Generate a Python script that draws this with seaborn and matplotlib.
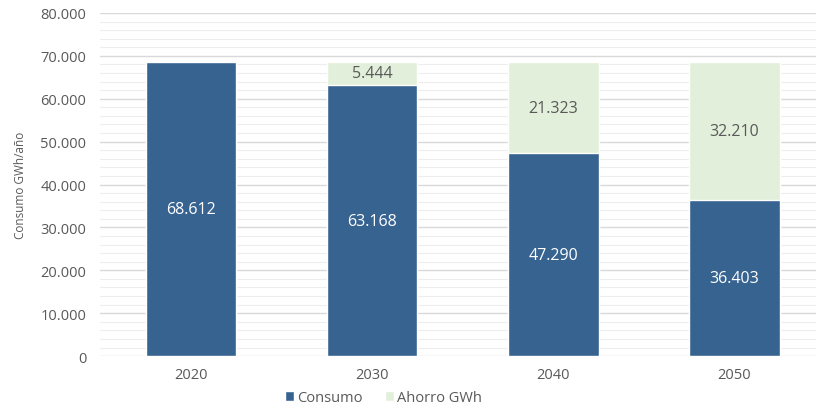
import matplotlib
matplotlib.use("Agg")
import matplotlib.pyplot as plt
import seaborn as sns
import pandas as pd
from matplotlib.ticker import MultipleLocator, FuncFormatter
from matplotlib.patches import Patch

years = ["2020", "2030", "2040", "2050"]
consumo = [68612, 63168, 47290, 36403]
ahorro = [0, 5444, 21323, 32210]

blue = "#376391"
green = "#E2EFDA"
grey = "#595959"

sns.set_theme(style="white")
plt.rcParams["font.family"] = ["Open Sans", "DejaVu Sans"]


def fmt(v):
    return f"{int(v):,}".replace(",", ".")


df = pd.DataFrame({"year": years, "consumo": consumo, "ahorro": ahorro})
df["total"] = df["consumo"] + df["ahorro"]

fig = plt.figure(figsize=(8.16, 4.10), dpi=100)
ax = fig.add_axes([0.123, 0.129, 0.877, 0.837])

sns.barplot(data=df, x="year", y="total", color=green, width=0.5,
            saturation=1, ax=ax, zorder=3)
sns.barplot(data=df, x="year", y="consumo", color=blue, width=0.5,
            saturation=1, ax=ax, zorder=4)

for i, row in df.iterrows():
    ax.text(i, row["consumo"] / 2, fmt(row["consumo"]), ha="center", va="center",
            color="white", fontsize=11.5, zorder=5)
    if row["ahorro"] > 0:
        ax.text(i, row["consumo"] + row["ahorro"] / 2, fmt(row["ahorro"]),
                ha="center", va="center", color=grey, fontsize=11.5, zorder=5)

ax.set_ylim(0, 80000)
ax.set_xlim(-0.5, 3.45)
ax.yaxis.set_major_locator(MultipleLocator(10000))
ax.yaxis.set_minor_locator(MultipleLocator(2000))
ax.yaxis.set_major_formatter(FuncFormatter(lambda v, p: fmt(v)))
ax.grid(axis="y", which="major", color="#D9D9D9", linewidth=1.0, zorder=0)
ax.grid(axis="y", which="minor", color="#EDEDED", linewidth=0.8, zorder=0)
for s in ax.spines.values():
    s.set_visible(False)
ax.tick_params(axis="both", which="both", length=0, colors=grey, labelsize=10.5)
ax.tick_params(axis="y", pad=10)
ax.tick_params(axis="x", pad=8)
ax.set_xlabel("")
ax.set_ylabel("Consumo GWh/año", color=grey, fontsize=8.5, labelpad=10)

handles = [Patch(facecolor=blue, label="Consumo"), Patch(facecolor=green, label="Ahorro GWh")]
fig.legend(handles=handles, loc="center", bbox_to_anchor=(0.47, 0.028), ncol=2,
           frameon=False, fontsize=10.5, labelcolor=grey, handlelength=0.6,
           handleheight=0.6, handletextpad=0.2, columnspacing=1.6)

fig.savefig("out.png", dpi=100)
